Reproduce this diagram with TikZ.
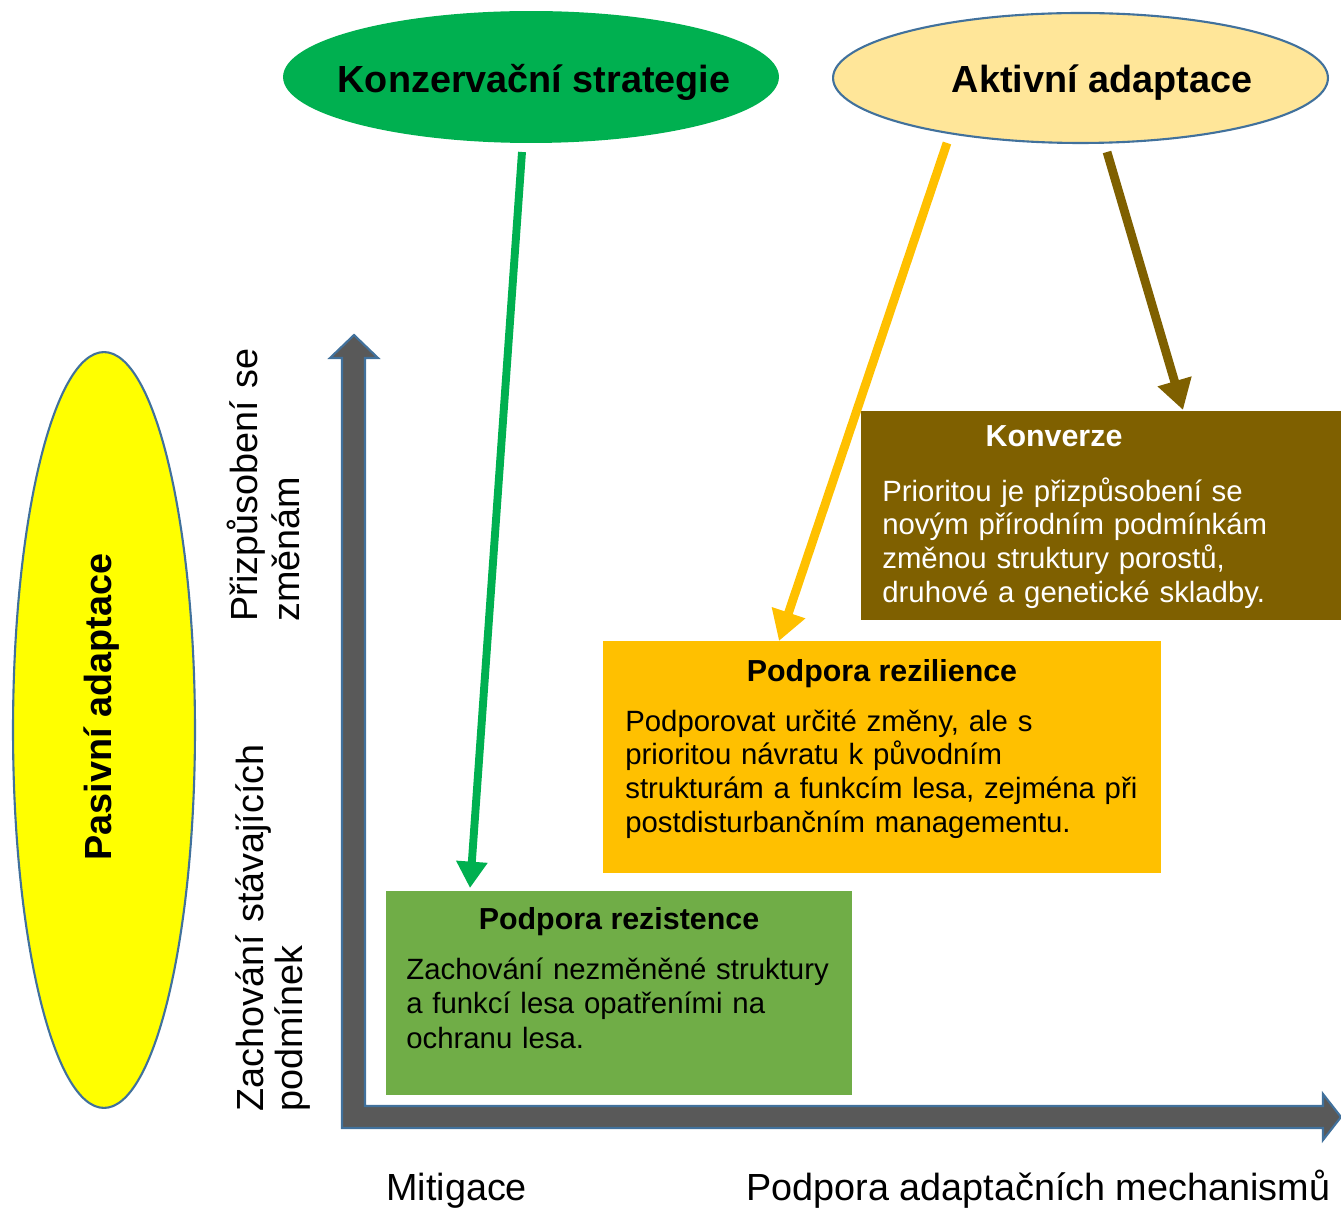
\documentclass[tikz,border=0pt]{standalone}
\usepackage{fontspec}
\setmainfont{Liberation Sans}
\usetikzlibrary{shapes.geometric,arrows.meta}
\definecolor{kgreen}{HTML}{00B050}
\definecolor{apale}{HTML}{FFE699}
\definecolor{ablue}{HTML}{41719C}
\definecolor{pyellow}{HTML}{FFFF00}
\definecolor{axgray}{HTML}{595959}
\definecolor{brownc}{HTML}{7F6000}
\definecolor{orangec}{HTML}{FFC000}
\definecolor{greenbox}{HTML}{70AD47}
\tikzset{
  oval/.style={ellipse, inner sep=0pt, outer sep=0pt},
  panel/.style={rectangle, inner sep=0pt, outer sep=0pt, anchor=north west},
  bigbold/.style={font=\fontsize{21.5}{25}\selectfont\bfseries, inner sep=0pt},
  axlabel/.style={font=\fontsize{21.5}{24.4}\selectfont, inner sep=0pt},
  boxtitle/.style={font=\fontsize{17.3}{20}\selectfont\bfseries, inner sep=0pt, anchor=base},
  bodytext/.style={font=\fontsize{16.7}{19.3}\selectfont, inner sep=0pt, anchor=base west, text width=10.5cm, align=left},
  connector/.style={line width=#1},
}
\begin{document}
\begin{tikzpicture}[x=0.02cm,y=-0.02cm]
\useasboundingbox (0,0) rectangle (1341,1212);
\clip (0,0) rectangle (1341,1212);

% ellipses
\node[oval, fill=kgreen, minimum width=9.92cm, minimum height=2.64cm] (kons) at (531,77) {};
\node[oval, fill=apale, draw=ablue, line width=1.2pt, minimum width=9.9cm, minimum height=2.6cm] (akt) at (1080.5,78) {};
\node[oval, fill=pyellow, draw=ablue, line width=1.2pt, minimum width=3.64cm, minimum height=15.12cm] (pas) at (104,730) {};

\node[bigbold, anchor=base] (tkons) at (534,93) {Konzervační strategie};
\node[bigbold, anchor=base] (takt) at (1102,93) {Aktivní adaptace};
\node[bigbold, rotate=90, anchor=base] (tpas) at (111,707) {Pasivní adaptace};

% axes
\path[fill=axgray, draw=ablue, line width=1.2pt, line join=miter]
  (342,1128) -- (342,358) -- (330,358) -- (354,335) -- (378,358) -- (365,358)
  -- (365,1106) -- (1323,1106) -- (1323,1094) -- (1341,1117) -- (1323,1140)
  -- (1323,1128) -- cycle;

% axis labels
\node[axlabel, rotate=90, anchor=base west, text width=8cm, align=left, font=\fontsize{21.5}{24.4}\selectfont] (ly1) at (257,622) {Přizpůsobení se\\změnám};
\node[axlabel, rotate=90, anchor=base west, text width=8cm, align=left, font=\fontsize{21.5}{22.7}\selectfont] (ly2) at (263,1112) {Zachování stávajících\\podmínek};
\node[axlabel, anchor=base west] (lx1) at (386,1200) {Mitigace};
\node[axlabel, anchor=base west] (lx2) at (746,1200) {Podpora adaptačních mechanismů};

% boxes
\node[panel, fill=brownc, minimum width=9.8cm, minimum height=4.18cm] (konv) at (861,411) {};
\node[panel, fill=orangec, minimum width=11.16cm, minimum height=4.64cm] (rezil) at (603,641) {};
\node[panel, fill=greenbox, minimum width=9.32cm, minimum height=4.08cm] (rezist) at (386,891) {};

\node[boxtitle, text=white] (tkonv) at (1054,447) {Konverze};
\node[bodytext, text=white] (bkonv) at (882,501) {Prioritou je přizpůsobení se\\novým přírodním podmínkám\\změnou struktury porostů,\\druhové a genetické skladby.};

\node[boxtitle] (trezil) at (882,681) {Podpora rezilience};
\node[bodytext] (brezil) at (625,731) {Podporovat určité změny, ale s\\prioritou návratu k původním\\strukturám a funkcím lesa, zejména při\\postdisturbančním managementu.};

\node[boxtitle] (trezist) at (619,929) {Podpora rezistence};
\node[bodytext, font=\fontsize{16.7}{19.8}\selectfont] (brezist) at (406,979) {Zachování nezměněné struktury\\a funkcí lesa opatřeními na\\ochranu lesa.};

% connectors
\coordinate (g1) at (522,152);
\coordinate (g2) at (470,888);
\coordinate (y1) at (947,143);
\coordinate (y2) at (779,641);
\coordinate (b1) at (1107,152);
\coordinate (b2) at (1183,410);
\draw[connector=4.5pt, kgreen, -{Triangle[length=15pt,width=17pt]}] (g1) -- (g2);
\draw[connector=5pt, orangec, -{Triangle[length=17pt,width=19pt]}] (y1) -- (y2);
\draw[connector=5pt, brownc, -{Triangle[length=17pt,width=19pt]}] (b1) -- (b2);
\end{tikzpicture}
\end{document}
